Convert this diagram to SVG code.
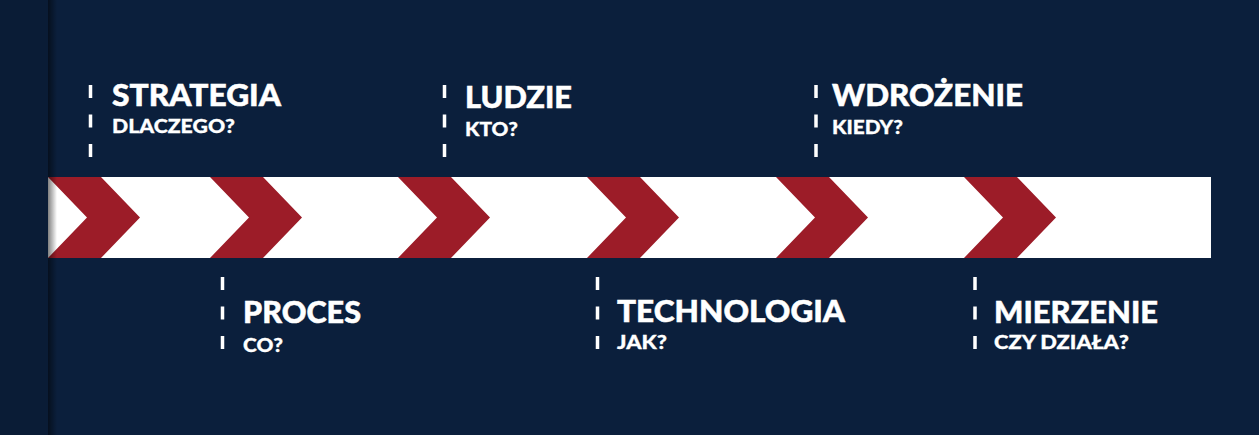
<svg xmlns="http://www.w3.org/2000/svg" width="1259" height="435" viewBox="0 0 1259 435">
  <defs>
    <style>
      .title { font-family: "Lato", "Liberation Sans", sans-serif; font-weight: 900; font-size: 30px; fill: #ffffff; stroke: #ffffff; stroke-width: 0.5; }
      .sub { font-family: "Lato", "Liberation Sans", sans-serif; font-weight: 900; font-size: 19.5px; fill: #ffffff; stroke: #ffffff; stroke-width: 0.3; }
      .dash { stroke: #ffffff; stroke-width: 3.5; stroke-dasharray: 13 16.5; fill: none; }
      .chev { fill: #9c1c28; }
    </style>
    <linearGradient id="shadow" x1="0" y1="0" x2="1" y2="0">
      <stop offset="0" stop-color="#000000" stop-opacity="0.5"/>
      <stop offset="1" stop-color="#000000" stop-opacity="0"/>
    </linearGradient>
  </defs>

  <rect x="0" y="0" width="1259" height="435" fill="#0b1f3c"/>
  <rect x="0" y="0" width="48" height="435" fill="#0a1c36"/>

  <g id="connectors">
    <rect x="48" y="177" width="1163" height="81" fill="#ffffff"/>
    <path class="chev" d="M48,177 L101,177 L140,217.5 L101,258 L48,258 L87,217.5 Z"/>
    <path class="chev" d="M210,177 L263,177 L302,217.5 L263,258 L210,258 L249,217.5 Z"/>
    <path class="chev" d="M398,177 L451,177 L490,217.5 L451,258 L398,258 L437,217.5 Z"/>
    <path class="chev" d="M587,177 L640,177 L679,217.5 L640,258 L587,258 L626,217.5 Z"/>
    <path class="chev" d="M776,177 L829,177 L868,217.5 L829,258 L776,258 L815,217.5 Z"/>
    <path class="chev" d="M964,177 L1017,177 L1056,217.5 L1017,258 L964,258 L1003,217.5 Z"/>
  </g>

  <rect x="48" y="0" width="9" height="435" fill="url(#shadow)"/>

  <g id="strategia">
    <line class="dash" x1="90.5" y1="85" x2="90.5" y2="157"/>
    <text class="title" x="112" y="106" textLength="169" lengthAdjust="spacingAndGlyphs">STRATEGIA</text>
    <text class="sub" x="112" y="133" textLength="123" lengthAdjust="spacingAndGlyphs">DLACZEGO?</text>
  </g>

  <g id="proces">
    <line class="dash" x1="222.5" y1="277" x2="222.5" y2="349"/>
    <text class="title" x="243" y="323" textLength="118" lengthAdjust="spacingAndGlyphs">PROCES</text>
    <text class="sub" x="243" y="352" textLength="40" lengthAdjust="spacingAndGlyphs">CO?</text>
  </g>

  <g id="ludzie">
    <line class="dash" x1="444.5" y1="85" x2="444.5" y2="157"/>
    <text class="title" x="465" y="108" textLength="107" lengthAdjust="spacingAndGlyphs">LUDZIE</text>
    <text class="sub" x="465" y="136" textLength="53" lengthAdjust="spacingAndGlyphs">KTO?</text>
  </g>

  <g id="technologia">
    <line class="dash" x1="597.5" y1="277" x2="597.5" y2="349"/>
    <text class="title" x="617" y="322" textLength="228" lengthAdjust="spacingAndGlyphs">TECHNOLOGIA</text>
    <text class="sub" x="617" y="349" textLength="50" lengthAdjust="spacingAndGlyphs">JAK?</text>
  </g>

  <g id="wdrozenie">
    <line class="dash" x1="816" y1="85" x2="816" y2="157"/>
    <text class="title" x="832" y="106" textLength="191" lengthAdjust="spacingAndGlyphs">WDROŻENIE</text>
    <text class="sub" x="832" y="134" textLength="71" lengthAdjust="spacingAndGlyphs">KIEDY?</text>
  </g>

  <g id="mierzenie">
    <line class="dash" x1="975" y1="277" x2="975" y2="349"/>
    <text class="title" x="994" y="323" textLength="164" lengthAdjust="spacingAndGlyphs">MIERZENIE</text>
    <text class="sub" x="994" y="349" textLength="135" lengthAdjust="spacingAndGlyphs">CZY DZIAŁA?</text>
  </g>
</svg>
